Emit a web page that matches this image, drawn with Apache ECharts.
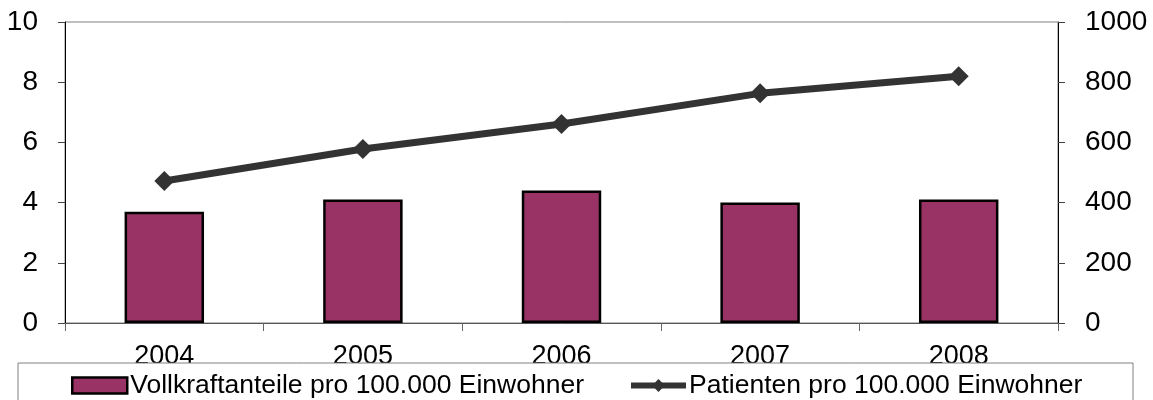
<!DOCTYPE html>
<html>
<head>
<meta charset="utf-8">
<script src="https://cdn.jsdelivr.net/npm/echarts@6/dist/echarts.min.js"></script>
<style>
  html, body { margin: 0; padding: 0; background: #fff; }
  #chart { width: 1153px; height: 400px; }
</style>
</head>
<body>
<div id="chart"></div>
<script>
const years = ["2004", "2005", "2006", "2007", "2008"];
const vollkraft = [3.7, 4.1, 4.4, 4.0, 4.1];
const patienten = [472, 578, 661, 763, 820];
const leftTicks = { min: 0, max: 10, interval: 2 };
const rightTicks = { min: 0, max: 1000, interval: 200 };

const font = "Liberation Sans, Arial, sans-serif";
const chart = echarts.init(document.getElementById("chart"));

chart.setOption({
  animation: false,
  textStyle: { fontFamily: font },
  grid: {
    left: 65, right: 95, top: 22, bottom: 77,
    show: true, borderColor: "#808080", borderWidth: 1,
  },
  graphic: [{
    type: "rect",
    z: 10,
    shape: { x: 18, y: 363, width: 1115, height: 50 },
    style: { fill: "#fff", stroke: "#808080", lineWidth: 1 },
  }],
  legend: {
    z: 20,
    left: 66,
    top: 367,
    itemGap: 44,
    itemWidth: 55,
    itemHeight: 16,
    textStyle: { fontSize: 26.5, color: "#000", fontFamily: font, padding: [0, 0, 0, -2] },
    data: [
      {
        name: "Vollkraftanteile pro 100.000 Einwohner",
        icon: "rect",
        itemStyle: { color: "#993366", borderColor: "#000", borderWidth: 2.5 },
      },
      {
        name: "Patienten pro 100.000 Einwohner",
        itemStyle: { color: "#333" },
        lineStyle: { color: "#333", width: 6 },
      },
    ],
  },
  xAxis: {
    type: "category",
    data: years,
    boundaryGap: true,
    axisLine: { lineStyle: { color: "#555", width: 1 } },
    axisTick: { show: true, length: 8, lineStyle: { color: "#666" } },
    axisLabel: { fontSize: 27, color: "#000", margin: 20 },
  },
  yAxis: [
    {
      type: "value",
      ...leftTicks,
      splitLine: { show: false },
      axisLine: { show: true, lineStyle: { color: "#000" } },
      axisTick: { show: true, length: 7, lineStyle: { color: "#444" } },
      axisLabel: { fontSize: 28, color: "#000", margin: 27 },
    },
    {
      type: "value",
      ...rightTicks,
      splitLine: { show: false },
      axisLine: { show: true, lineStyle: { color: "#000" } },
      axisTick: { show: true, length: 7, lineStyle: { color: "#444" } },
      axisLabel: { fontSize: 28, color: "#000", margin: 27, formatter: (v) => String(v) },
    },
  ],
  series: [
    {
      name: "Vollkraftanteile pro 100.000 Einwohner",
      type: "bar",
      yAxisIndex: 0,
      data: vollkraft,
      barWidth: "40%",
      itemStyle: { color: "#993366", borderColor: "#000", borderWidth: 2.5 },
    },
    {
      name: "Patienten pro 100.000 Einwohner",
      type: "line",
      yAxisIndex: 1,
      data: patienten,
      symbol: "diamond",
      symbolSize: 20,
      lineStyle: { color: "#333", width: 7 },
      itemStyle: { color: "#333" },
    },
  ],
});
</script>
</body>
</html>
